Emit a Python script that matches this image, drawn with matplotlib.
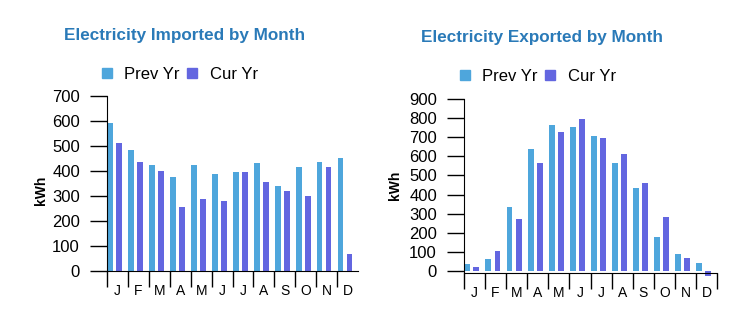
import numpy as np
import matplotlib
matplotlib.use('Agg')
from matplotlib import pyplot as plt
from matplotlib.lines import Line2D

plt.rcParams['font.family'] = ['Liberation Sans', 'DejaVu Sans']

months = ['J', 'F', 'M', 'A', 'M', 'J', 'J', 'A', 'S', 'O', 'N', 'D']

imp_prev = [593, 484, 425, 377, 425, 388, 397, 433, 340, 416, 437, 453]
imp_cur = [513, 437, 401, 257, 289, 281, 397, 357, 321, 301, 416, 69]

exp_prev = [35, 65, 333, 637, 763, 753, 706, 564, 432, 180, 91, 44]
exp_cur = [23, 107, 275, 564, 727, 795, 695, 611, 459, 285, 70, -25]

prev_color = '#4ea6dc'
cur_color = '#6366e0'
title_color = '#2a7ab8'

fig = plt.figure(figsize=(7.4, 3.26), dpi=100)
ax1 = fig.add_axes([0.1446, 0.1687, 0.3392, 0.5368])
ax2 = fig.add_axes([0.627, 0.1626, 0.342, 0.5337])


def draw(ax, prev, cur, ymin, ymax, n_sep, title, tx, ty, lx, ly, ylab):
    x = np.arange(len(months))
    ax.bar(x + 0.02, prev, width=0.28, align='edge', color=prev_color, clip_on=False)
    ax.bar(x + 0.45, cur, width=0.28, align='edge', color=cur_color, clip_on=False)
    ax.set_xlim(0, 12)
    ax.set_ylim(ymin, ymax)
    ax.set_yticks(range(0, ymax + 1, 100))
    ax.spines['top'].set_visible(False)
    ax.spines['right'].set_visible(False)
    ax.spines['left'].set_bounds(0 if ymin >= 0 else ymin, ymax)
    ax.tick_params(axis='y', direction='out', length=12.5, width=1, pad=7, labelsize=12)
    ax.set_xticks(x + 0.5)
    ax.set_xticklabels(months)
    ax.set_xticks(np.arange(n_sep), minor=True)
    ax.tick_params(axis='x', which='major', length=0, pad=9.5, labelsize=10)
    ax.tick_params(axis='x', which='minor', length=11.5, width=1)
    ax.set_ylabel('kWh', fontsize=10, fontweight='bold')
    ax.yaxis.set_label_coords(ylab[0], ylab[1])
    fig.text(tx, ty, title, ha='center', va='center', fontsize=12.3,
             fontweight='bold', color=title_color)
    handles = [Line2D([], [], marker='s', linestyle='none', markersize=6.5,
                      color=prev_color, label='Prev Yr'),
               Line2D([], [], marker='s', linestyle='none', markersize=6.5,
                      color=cur_color, label='Cur Yr')]
    ax.legend(handles=handles, ncol=2, loc='center left', bbox_to_anchor=(lx, ly),
              bbox_transform=fig.transFigure, frameon=False, fontsize=12,
              handlelength=0.55, handletextpad=0.8, columnspacing=0.45,
              borderpad=0, borderaxespad=0)


draw(ax1, imp_prev, imp_cur, 0, 700, 12, 'Electricity Imported by Month',
     0.25, 0.8905, 0.1378, 0.7715, (-0.235, 0.463))
draw(ax2, exp_prev, exp_cur, -10, 900, 13, 'Electricity Exported by Month',
     0.733, 0.8865, 0.6216, 0.7653, (-0.245, 0.506))

fig.savefig('out.png', dpi=100)
